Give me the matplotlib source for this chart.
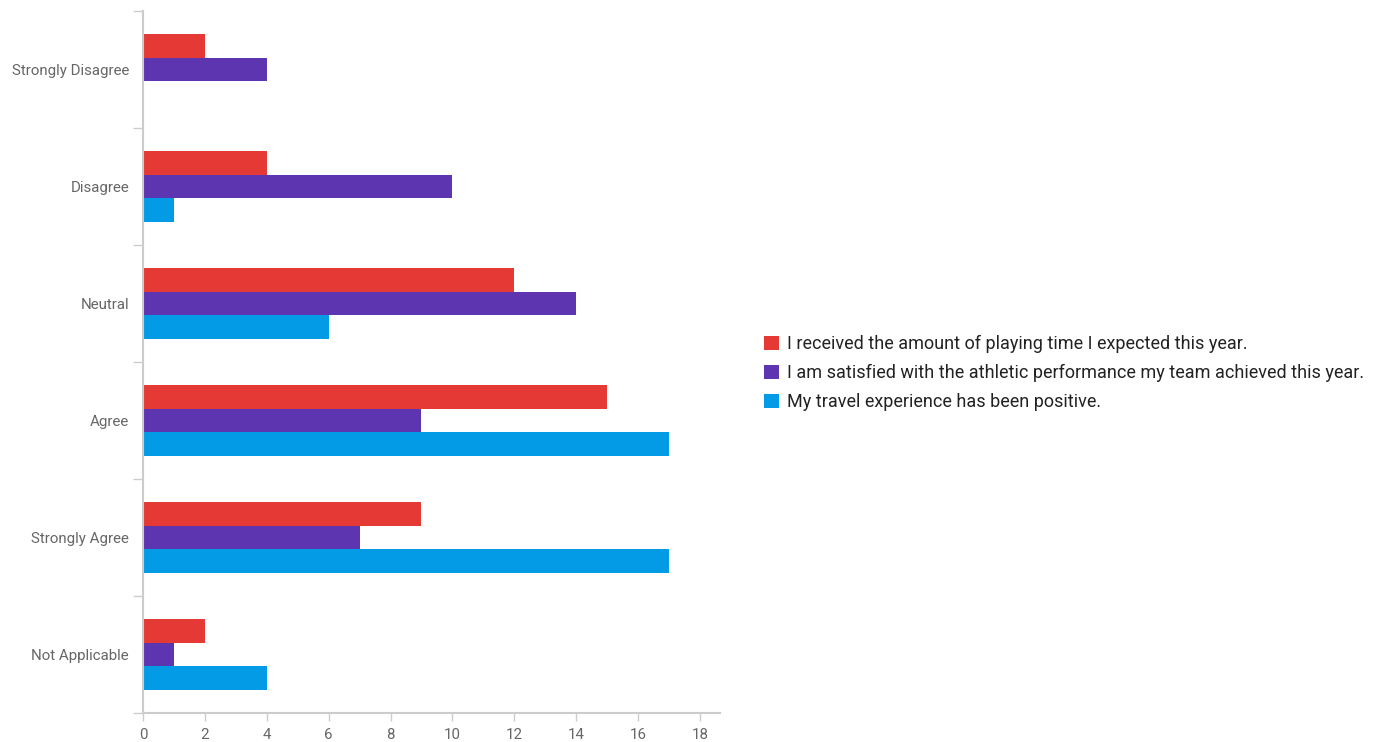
import matplotlib
matplotlib.use('Agg')
import matplotlib.pyplot as plt
import numpy as np

categories = ["Strongly Disagree", "Disagree", "Neutral", "Agree",
              "Strongly Agree", "Not Applicable"]
playing_time = [2, 4, 12, 15, 9, 2]
team_performance = [4, 10, 14, 9, 7, 1]
travel = [0, 1, 6, 17, 17, 4]
series_labels = [
    "I received the amount of playing time I expected this year.",
    "I am satisfied with the athletic performance my team achieved this year.",
    "My travel experience has been positive.",
]
colors = ["#E53935", "#5E35B1", "#039BE5"]
x_ticks = list(range(0, 20, 2))

plt.rcParams['font.family'] = ['Roboto', 'DejaVu Sans']

fig = plt.figure(figsize=(13.82, 7.42), dpi=100)
ax = fig.add_axes([143 / 1382, 1 - 713 / 742, (720 - 143) / 1382, 702 / 742])

y = np.arange(len(categories))
h = 0.2
handles = []
for i, (vals, col, lab) in enumerate(zip([playing_time, team_performance, travel],
                                          colors, series_labels)):
    b = ax.barh(y + (i - 1) * h, vals, height=h, color=col, label=lab)
    handles.append(b)

ax.set_ylim(len(categories) - 0.5, -0.5)
ax.set_xlim(0, 18.65)

# boundaries get tick marks, centers get labels
ax.set_yticks(np.arange(-0.5, len(categories), 1))
ax.set_yticklabels([])
ax.set_yticks(y, minor=True)
ax.set_yticklabels(categories, minor=True)
ax.tick_params(axis='y', which='major', length=7, color='#cccccc', width=1)
ax.tick_params(axis='y', which='minor', length=0, pad=10, labelsize=10.8,
               labelcolor='#666666')

ax.set_xticks(x_ticks)
ax.tick_params(axis='x', length=6, color='#cccccc', width=1, labelsize=10.8,
               labelcolor='#666666', pad=5)

ax.spines['top'].set_visible(False)
ax.spines['right'].set_visible(False)
ax.spines['left'].set_color('#cccccc')
ax.spines['bottom'].set_color('#cccccc')
ax.spines['left'].set_linewidth(1.5)
ax.spines['bottom'].set_linewidth(1.5)

fig.legend(handles=handles, loc='center left', bbox_to_anchor=(0.5414, 0.497),
           frameon=False, fontsize=13, handlelength=0.8, handleheight=0.8,
           handletextpad=0.45, labelspacing=0.6, labelcolor='#222222')

fig.savefig('out.png', dpi=100)
